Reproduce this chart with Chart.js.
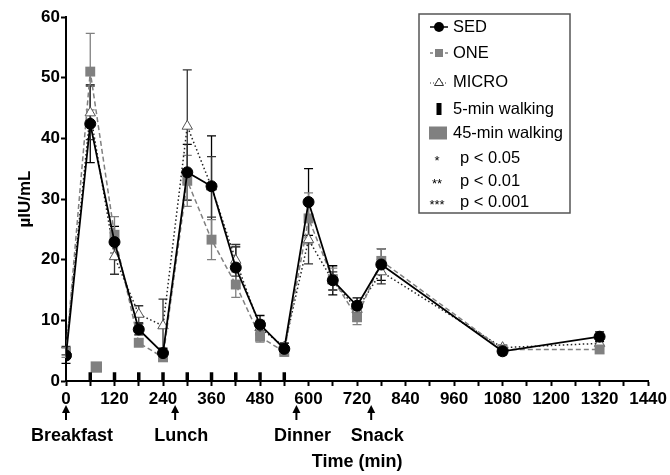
<!DOCTYPE html>
<html>
<head>
<meta charset="utf-8">
<script src="https://cdn.jsdelivr.net/npm/chart.js@4.4.1/dist/chart.umd.min.js"></script>
<style>
  html, body { margin: 0; padding: 0; background: #fff; }
  #wrap { width: 670px; height: 475px; }
</style>
</head>
<body>
<div id="wrap"><canvas id="insulinChart" width="670" height="475"></canvas></div>
<script>
// sampling times (min)
const times = [0, 60, 120, 180, 240, 300, 360, 420, 480, 540, 600, 660, 720, 780, 1080, 1320];

// insulin, µIU/mL (mean and SEM)
const sedMean   = [4.2, 42.4, 22.9, 8.5, 4.6, 34.4, 32.1, 18.7, 9.3, 5.3, 29.5, 16.6, 12.4, 19.2, 4.9, 7.3];
const sedSem    = [1.3, 6.4, 2.6, 0.9, 0.8, 4.6, 8.3, 3.4, 1.5, 0.9, 5.5, 2.4, 1.3, 2.6, 0.6, 0.8];
const oneMean   = [4.7, 51.0, 24.1, 6.3, 3.9, 33.0, 23.3, 15.9, 7.3, 4.8, 26.8, 16.8, 10.5, 19.8, 5.2, 5.2];
const oneSem    = [0.8, 6.3, 3.0, 0.6, 0.6, 4.2, 3.3, 2.1, 0.9, 0.7, 4.2, 1.8, 1.2, 2.0, 0.5, 0.6];
const microMean = [5.0, 44.2, 20.5, 11.0, 9.1, 42.0, 32.0, 19.9, 8.8, 5.6, 23.3, 16.5, 11.8, 18.0, 5.5, 6.2];
const microSem  = [0.7, 4.4, 2.9, 1.4, 4.4, 9.3, 5.0, 2.6, 1.2, 0.7, 4.0, 1.5, 1.2, 2.0, 0.4, 0.6];

// walking bouts
const walk5Times = [60, 120, 180, 240, 300, 360, 420, 480, 540];
const walk5Level = 0.7;
const walk45Times = [75];
const walk45Level = 2.3;

// meals under the x axis
const mealTimes = [0, 270, 570, 755];
const mealNames = ['Breakfast', 'Lunch', 'Dinner', 'Snack'];

const GREY = '#808080';
const FONT = "'Liberation Sans', Arial, sans-serif";

const toPoints = (xs, ys) => xs.map((t, i) => ({ x: t, y: ys[i] }));

// error bars drawn through the scales
const errorBars = {
    id: 'errorBars',
    beforeDatasetsDraw(chart) {
        const { ctx, scales: { x, y } } = chart;
        ctx.save();
        chart.data.datasets.forEach(ds => {
            if (!ds.errors) return;
            ctx.strokeStyle = ds.errorColor;
            ctx.lineWidth = 1.3;
            ctx.setLineDash([]);
            ds.data.forEach((p, i) => {
                const px = x.getPixelForValue(p.x);
                const top = y.getPixelForValue(p.y + ds.errors[i]);
                const bot = y.getPixelForValue(p.y - ds.errors[i]);
                ctx.beginPath();
                ctx.moveTo(px, top); ctx.lineTo(px, bot);
                ctx.moveTo(px - 4.5, top); ctx.lineTo(px + 4.5, top);
                ctx.moveTo(px - 4.5, bot); ctx.lineTo(px + 4.5, bot);
                ctx.stroke();
            });
        });
        ctx.restore();
    }
};

// meal arrows + custom legend box
const extras = {
    id: 'extras',
    afterDraw(chart) {
        const { ctx, scales: { x } } = chart;
        ctx.save();
        ctx.fillStyle = '#000';
        ctx.strokeStyle = '#000';
        ctx.font = 'bold 18px ' + FONT;
        ctx.textAlign = 'center';
        ctx.textBaseline = 'middle';
        mealTimes.forEach((t, i) => {
            const px = x.getPixelForValue(t);
            ctx.lineWidth = 2;
            ctx.beginPath();
            ctx.moveTo(px, 420); ctx.lineTo(px, 411);
            ctx.stroke();
            ctx.beginPath();
            ctx.moveTo(px, 405); ctx.lineTo(px - 4, 413); ctx.lineTo(px + 4, 413);
            ctx.closePath();
            ctx.fill();
            ctx.fillText(mealNames[i], px + 6, 436);
        });

        // legend
        const bx = 419, by = 14, bw = 151, bh = 199;
        ctx.lineWidth = 1.5;
        ctx.strokeStyle = '#555';
        ctx.strokeRect(bx, by, bw, bh);
        ctx.font = '16.5px ' + FONT;
        ctx.textAlign = 'left';
        const sx = 439, tx = 453;
        // SED
        let yy = 27;
        ctx.strokeStyle = '#000'; ctx.lineWidth = 1.5;
        ctx.beginPath(); ctx.moveTo(430, yy); ctx.lineTo(448, yy); ctx.stroke();
        ctx.beginPath(); ctx.arc(sx, yy, 5, 0, Math.PI * 2); ctx.fill();
        ctx.fillText('SED', tx, yy);
        // ONE
        yy = 53;
        ctx.strokeStyle = GREY; ctx.setLineDash([3, 2]);
        ctx.beginPath(); ctx.moveTo(430, yy); ctx.lineTo(448, yy); ctx.stroke();
        ctx.setLineDash([]);
        ctx.fillStyle = GREY; ctx.fillRect(sx - 4, yy - 4, 8, 8);
        ctx.fillStyle = '#000';
        ctx.fillText('ONE', tx, yy);
        // MICRO
        yy = 82;
        ctx.strokeStyle = '#333'; ctx.lineWidth = 1; ctx.setLineDash([1, 2]);
        ctx.beginPath(); ctx.moveTo(430, yy + 1); ctx.lineTo(448, yy + 1); ctx.stroke();
        ctx.setLineDash([]);
        ctx.fillStyle = '#fff';
        ctx.beginPath(); ctx.moveTo(sx, yy - 4); ctx.lineTo(sx - 4.5, yy + 3.5); ctx.lineTo(sx + 4.5, yy + 3.5); ctx.closePath();
        ctx.fill(); ctx.stroke();
        ctx.fillStyle = '#000';
        ctx.fillText('MICRO', tx, yy);
        // 5-min walking
        yy = 109;
        ctx.fillRect(sx - 2.5, yy - 6, 5, 12);
        ctx.fillText('5-min walking', tx, yy);
        // 45-min walking
        yy = 133;
        ctx.fillStyle = GREY; ctx.fillRect(429, yy - 6.5, 18, 13);
        ctx.fillStyle = '#000';
        ctx.fillText('45-min walking', tx, yy);
        // significance
        const stars = ['*', '**', '***'];
        const pTexts = ['p < 0.05', 'p < 0.01', 'p < 0.001'];
        const pY = [158, 181, 202];
        stars.forEach((s, i) => {
            ctx.font = '13px ' + FONT;
            ctx.textAlign = 'center';
            ctx.fillText(s, 437, pY[i] + 3);
            ctx.font = '16.5px ' + FONT;
            ctx.textAlign = 'left';
            ctx.fillText(pTexts[i], 460, pY[i]);
        });
        ctx.restore();
    }
};

new Chart(document.getElementById('insulinChart'), {
    type: 'scatter',
    data: {
        datasets: [{
            label: 'SED',
            data: toPoints(times, sedMean),
            errors: sedSem,
            errorColor: '#000',
            showLine: true,
            borderColor: '#000',
            backgroundColor: '#000',
            borderWidth: 1.8,
            pointStyle: 'circle',
            pointRadius: 5.5,
            pointBorderWidth: 1,
            order: 0
        }, {
            label: 'ONE',
            data: toPoints(times, oneMean),
            errors: oneSem,
            errorColor: GREY,
            showLine: true,
            borderColor: GREY,
            backgroundColor: GREY,
            borderWidth: 1.5,
            borderDash: [5, 3],
            pointStyle: 'rect',
            pointRadius: 7,
            pointBorderWidth: 0,
            order: 1
        }, {
            label: 'MICRO',
            data: toPoints(times, microMean),
            errors: microSem,
            errorColor: '#333',
            showLine: true,
            borderColor: '#222',
            backgroundColor: '#fff',
            borderWidth: 1.5,
            borderDash: [1.5, 2.5],
            pointStyle: 'triangle',
            pointRadius: 6,
            pointBorderColor: '#555',
            pointBorderWidth: 1,
            order: 2
        }, {
            label: '5-min walking',
            data: walk5Times.map(t => ({ x: t, y: walk5Level })),
            pointStyle: 'line',
            rotation: 90,
            pointRadius: 4.5,
            borderColor: '#000',
            borderWidth: 3.5,
            order: 3
        }, {
            label: '45-min walking',
            data: walk45Times.map(t => ({ x: t, y: walk45Level })),
            pointStyle: 'rect',
            pointRadius: 8,
            backgroundColor: GREY,
            borderWidth: 0,
            order: 4
        }]
    },
    options: {
        responsive: false,
        animation: false,
        devicePixelRatio: 1,
        layout: { padding: { left: 0, right: 21, top: 17, bottom: 0 } },
        plugins: {
            legend: { display: false },
            tooltip: { enabled: false }
        },
        scales: {
            x: {
                type: 'linear',
                min: 0,
                max: 1440,
                afterFit: s => { s.height = 94; },
                border: { display: true, color: '#000', width: 2 },
                grid: { drawOnChartArea: false, drawTicks: true, tickLength: 5, tickWidth: 2, tickColor: '#000' },
                ticks: {
                    stepSize: 60,
                    autoSkip: false,
                    maxRotation: 0,
                    padding: 3,
                    color: '#000',
                    font: { family: FONT, size: 17, weight: 'bold' },
                    callback: v => (v % 120 === 0 ? v : '')
                },
                title: {
                    display: true,
                    text: 'Time (min)',
                    color: '#000',
                    font: { family: FONT, size: 18, weight: 'bold' },
                    padding: { top: 0, bottom: 2 }
                }
            },
            y: {
                min: 0,
                max: 60,
                afterFit: s => { s.width = 66; },
                border: { display: true, color: '#000', width: 2 },
                grid: { drawOnChartArea: false, drawTicks: true, tickLength: 5, tickWidth: 2, tickColor: '#000' },
                ticks: {
                    stepSize: 10,
                    padding: 1,
                    color: '#000',
                    font: { family: FONT, size: 17, weight: 'bold' }
                },
                title: {
                    display: true,
                    text: 'µIU/mL',
                    color: '#000',
                    font: { family: FONT, size: 17, weight: 'bold' },
                    padding: { top: 15, bottom: 0 }
                }
            }
        }
    },
    plugins: [errorBars, extras]
});
</script>
</body>
</html>
